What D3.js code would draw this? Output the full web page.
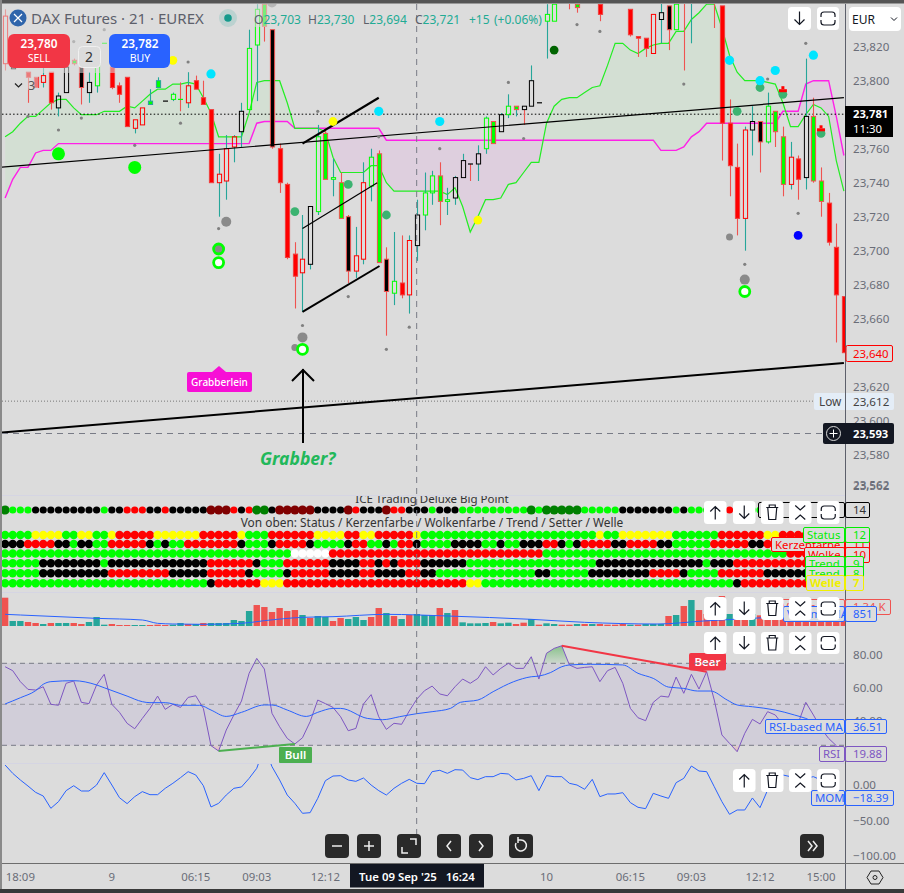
<!DOCTYPE html>
<html><head><meta charset="utf-8">
<script src="https://cdn.jsdelivr.net/npm/d3@7"></script>
<style>html,body{margin:0;padding:0;background:#dcdcdc;overflow:hidden}svg{display:block}text{font-family:"Noto Sans",sans-serif}</style>
</head><body><div id="chart"></div>
<script>
// ---------- price panel data (one entry per bar, null = bar not visible) ----------
const bodyTop=[23838,23808,null,23805,23802,23803,23805,23791,23808,23812,
23808,23799,23813,23822,23808,23797,23802,23777,23784,23788,
23800,23788,23792,23789,23797,23800,23790,23783,23745,23760,
23767,23782,23819,23842,23845,23830,23760,23739,23698,23695,
23726,23767,23769,23743,23740,23720,23697,23740,23755,23757,
23695,23682,23681,23706,23721,23734,23744,23744,23730,23743,
23753,23751,23757,23778,23776,23780,23785,23785,23785,23800,
23787,23839,23845,null,23850,23845,null,null,23845,null,
null,null,23842,23826,23825,23839,23840,23844,23845,23855,
23855,null,null,23855,23844,23775,23749,23771,23776,23776,
23785,23782,23767,23755,23754,23779,23779,23741,23728,23702,23673];
const bodyBottom=[23810,23807,null,23802,23796,23799,23787,23784,23793,23810,
23796,23793,23797,23822,23796,23792,23773,23772,23774,23786,
23796,23788,23789,23789,23787,23795,23786,23740,23740,23741,
23761,23770,23783,23821,23832,23761,23740,23696,23685,23687,
23692,23723,23742,23742,23719,23688,23688,23695,23738,23693,
23676,23675,23674,23674,23703,23721,23734,23729,23729,23731,
23743,23751,23751,23760,23763,23770,23780,23783,23783,23785,
23787,23835,23835,null,23848,23843,null,null,23839,null,
null,null,23827,23825,23819,23816,23836,23830,23830,23852,
23852,null,null,23852,23775,23750,23719,23719,23771,23764,
23764,23770,23739,23739,23742,23743,23741,23729,23705,23674,23640];
const wickHigh=[23842,23808,null,23805,23802,23808,23805,23793,23808,23813,
23808,23805,23813,23822,23808,23799,23802,23777,23784,23795,
23802,23788,23793,23799,23805,23803,23800,23783,23757,23768,
23768,23787,23830,23845,23845,23830,23763,23740,23705,23721,
23726,23774,23772,23754,23746,23721,23714,23752,23760,23759,
23702,23711,23709,23709,23730,23746,23747,23752,23737,23744,
23757,23751,23762,23779,23776,23781,23792,23785,23785,23809,
23787,23845,23845,null,23850,23845,null,null,23845,null,
null,null,23842,23826,23825,23839,23855,23844,23845,23855,
23855,null,null,23855,23844,23789,23763,23773,23785,23776,
23793,23782,23773,23764,23756,23813,23790,23749,23734,23716,23673];
const wickLow=[23806,23807,null,23787,23796,23796,23783,23779,23793,23809,
23786,23787,23793,23822,23795,23787,23773,23769,23774,23786,
23796,23788,23788,23782,23784,23795,23786,23740,23720,23730,
23752,23761,23783,23788,23823,23760,23734,23695,23666,23664,
23689,23721,23742,23732,23719,23681,23684,23692,23729,23693,
23650,23668,23672,23663,23694,23712,23727,23715,23721,23727,
23743,23741,23741,23757,23763,23770,23778,23779,23774,23785,
23787,23813,23835,null,23842,23840,null,null,23835,null,
null,null,23826,23814,23814,23816,23822,23818,23830,23806,
23822,null,null,23831,23753,23732,23709,23700,23756,23746,
23763,23761,23732,23736,23730,23736,23740,23720,23703,23646,23640];
const bodyStyle=("RK rrRrKKg"+"kKGGrrrRRT"+"TKGGRrrrRR"+"RKGGgkrrrR"+"KGgGgkRRGg"+"kGrRKGGgGK"+"KKKGgKGgKK"+"KGG rg  r "+"  rrrRKkGr"+"G  rrrrRKk"+"GggRrKggrrr").split("");
const wickTint=("rt rrtrttr"+"rtttrrrtrt"+"tttrtrrrtt"+"ttttrrrrrt"+"ttrtrrtttr"+"rtrttttrtt"+"trttrtttrt"+"ttt rr  r "+"  rrrrtrtr"+"t  rrrrttr"+"trrtrtrrrrr").split("");
const cloudA=[23767,23770,23775,23779,23779,23783,23787,23789,23789,23784,
23780,23780,23780,23782,23782,23782,23785,23784,23788,23792,
23795,23795,23798,23798,23799,23798,23790,23781,23767,23767,
23767,23767,23781,23799,23800,23800,23800,23787,23772,23772,
23772,23772,23770,23755,23746,23746,23746,23746,23750,23750,
23740,23735,23735,23735,23735,23735,23735,23735,23733,23737,
23726,23711,23720,23730,23730,23731,23739,23740,23746,23752,
23752,23775,23785,23789,23790,23790,23793,23796,23797,23809,
23822,23822,23818,23816,23819,23821,23822,23822,23829,23829,
23836,23840,23845,23845,23831,23815,23805,23800,23800,23800,
23799,23798,23787,23773,23773,23780,23786,23784,23779,23753,23735];
const cloudB=[23731,23742,23749,23749,23757.5,23759,23759,23763,23763,23763,
23763,23763,23763,23763,23763,23763,23763,23763,23763,23763,
23763,23763,23763,23763,23763,23763,23763,23763,23763,23763,
23763,23763,23763,23775,23776,23776,23776,23776,23772,23772,
23772,23772,23772,23772,23772,23772,23772,23772,23772,23772,
23765,23765,23765,23765,23765,23765,23765,23765,23765,23765,
23765,23765,23765,23765,23765,23765,23765,23765,23765,23765,
23765,23765,23765,23765,23765,23765,23765,23765,23765,23765,
23765,23765,23765,23765,23765,23765,23759,23759,23759,23761,
23767,23770,23775,23775,23775,23775,23775,23775,23775,23775,
23775,23775,23782,23782,23782,23798,23800,23800,23800,23779,23756];
// dots: bar, price
const smallDotBars=[3,7,10,17,23,28,24,13,9,41,49,57,66,68,75,78,89,100,105,104,39,45,50,53,97];
const smallDotPrices=[23779,23771,23778,23762,23775,23713,23811,23830,23823,23782,23767,23760,23799,23766,23833,23829,23798,23801,23822,23722,23656,23673,23642,23655,23692];
const limeDotBars=[7,17], limeDotPrices=[23757,23749];
const seaDotBars=[38,45,50,99,96,102,107], seaDotPrices=[23723,23739,23721,23796,23782,23792,23769];
const darkDotBars=[72], darkDotPrices=[23818];
const cyanDotBars=[27,49,57,95,99,101,106], cyanDotPrices=[23804,23782,23776,23812,23800,23806,23815];
const yellowDotBars=[22,43,62], yellowDotPrices=[23812,23776,23718];
const blueDotBars=[104], blueDotPrices=[23709];
const greyDotBars=[29,39,97,95,38,35], greyDotPrices=[23717,23649,23683,23708,23643,23846], greyDotSizes=[5,5,5,3.5,3.5,5];
const ringBars=[28,28,39,97], ringPrices=[23701,23693,23642,23676], ringFills=["#8a8a8a","#fff","#fff","#fff"];
const redMarkBars=[102,107], redMarkPrices=[23795,23772];
// drawn lines: bar from, price from, bar to, price to, stroke width
const drawingBarsA=[-0.7,-0.7,39,39,39], drawingPricesA=[23749,23593,23763,23713,23664];
const drawingBarsB=[110,110,49,48.8,49.1], drawingPricesB=[23790,23634,23790,23740,23691];
const drawingWidths=[1.2,2,2.2,1.2,2];
// price axis
const priceTicks=[23820,23800,23760,23740,23720,23700,23680,23660,23620,23600,23580,23562];
// big point row + matrix rows: [colour, last bar of the run]
const bigPoint=[["D",0],["g",3],["k",12],["g",13],["k",15],["r",18],["k",20],["r",21],["k",26],["M",29],["r",30],["k",31],["r",32],["D",34],["k",35],["M",40],["k",44],["M",45],["r",46],["k",49],["M",50],["r",52],["k",55],["g",56],["k",59],["g",68],["D",69],["g",70],["D",75],["g",80],["k",87],["g",88],["k",89],["g",94],["r",95],["g",110]];
const statusRow=[["g",3],["y",7],["g",9],["y",11],["g",13],["y",14],["r",19],["y",25],["r",30],["y",31],["g",34],["r",40],["y",44],["r",46],["y",48],["r",53],["y",54],["g",77],["y",78],["g",80],["y",87],["g",93],["r",99],["y",101],["r",110]];
const candleRow=[["k",2],["r",6],["k",8],["g",9],["k",11],["g",13],["r",18],["k",19],["g",20],["k",21],["g",23],["r",30],["k",31],["g",34],["k",35],["r",39],["k",40],["g",44],["k",45],["r",47],["g",49],["k",50],["g",51],["r",53],["k",54],["g",58],["k",62],["g",64],["k",65],["g",67],["k",70],["r",72],["k",73],["g",74],["k",75],["r",79],["k",81],["r",85],["k",87],["g",92],["r",97],["k",99],["r",110]];
const cloudRow=[["g",37],["w",42],["r",70],["g",102],["r",110]];
const trendRow=[["g",4],["k",12],["g",13],["k",26],["r",32],["k",33],["g",36],["r",42],["k",46],["r",48],["k",49],["r",50],["k",51],["r",54],["k",60],["g",77],["k",91],["g",92],["k",95],["r",110]];
const setterRow=[["g",4],["k",13],["r",21],["k",26],["r",31],["k",32],["g",36],["k",37],["r",42],["k",46],["r",48],["k",52],["r",54],["k",56],["g",69],["k",71],["g",76],["k",84],["r",88],["k",89],["g",93],["r",99],["k",110]];
const waveRow=[["g",26],["k",27],["r",33],["y",36],["r",60],["y",62],["g",95],["k",96],["r",110]];
// volume
const volume=[1966,347,347,278,208,139,208,208,208,208,139,278,625,93,139,69,69,69,69,69,93,69,93,208,139,139,208,208,208,208,416,347,1041,1457,1318,971,1249,1041,1110,763,555,694,625,347,555,486,625,416,625,1249,902,694,486,763,833,763,763,1249,902,
1110,254,185,185,208,278,185,231,139,231,486,93,185,139,93,93,139,139,139,139,93,93,139,93,93,139,139,139,694,763,1388,1804,1110,833,1110,2082,833,925,879,833,740,648,694,833,648,694,763,879,694,833,925,1340];
const volumeTint=("rttrrtrttrrtt"+"trrrttrrrttrt"+"rttttttr"+"rrrrrtrttrrttt"+"rrtrtrtttrt"+"rttttrttrrtrt"+"trrtrtrrrrtrtttr"+"trtrrrrtrrtrrrrr").split("");
const volMaBars=[0,2,12,18,20,22,26,31,34,39,43,50,58,69,76,85.5,91.6,110];
const volMa=[810,763,532,416,185,139,116,185,370,601,648,810,694,463,254,139,347,851];
// RSI
const rsi=[72.9,70.5,63.8,59.1,58.7,60.7,50,49.4,62.8,64.2,51.2,50.4,61.8,68.3,50,45.1,38.4,35.1,41.4,47.5,55,46.9,50,48.1,54.2,55.2,47.5,24.8,21.5,34.3,43.5,52,68.9,78,71.5,44.5,36.3,29.2,25.8,29.6,39.4,52.6,50.4,48.1,42.4,33.9,35.3,50.2,55.9,42.4,34.7,38.4,37.8,45.9,53.2,58.3,61.1,56.3,55.2,
60.7,65.4,62.8,65.8,72.9,67.9,71.9,75,71.9,71.9,79,65.4,81.1,84.1,85.7,74,71.9,72.5,72.9,63.8,70.5,72.5,62.8,47.5,41.8,40,51.2,55,54.4,66.6,56.7,68.3,59.3,69.9,52.6,31.3,26.2,21.1,32.3,40.8,38,45.5,43.5,37.4,32.3,38.4,51.2,43.5,35.3,29.2,24.8,19.88];
const rsiMaBars=[0,2,4,5,6,9,12,13,16,18,19,21,23,25.5,27,29,31,34,35,37,39.5,41,43,44,47.5,49.5,51.7,54,56,58.4,59.7,62,64,66.7,69,70,71.5,73,74,76.8,81,83,85,87,89,90.8,92.5,94.7,96,98,101,103.5,105,107,110];
const rsiMa=[50.2,54,58.3,62.2,63.8,64.4,61.8,60.1,55,51.6,51,51,49.4,49.4,46.5,42.6,45.1,49.6,49.6,46.5,42.6,45.1,47.5,47.5,41.4,40.6,42.4,44.3,45.5,47.5,51.2,52.6,57.7,63.8,66.8,67.2,69.3,72.9,74,74.4,74,68.9,65.8,60.5,59.7,58.1,58.1,52.6,49.6,48.5,46.5,43.5,41.4,37.4,36.51];
const rsiTicks=[80,60,40], rsiLevels=[75,50,25];
// Momentum
const mom=[28.3,16.5,7.1,-1.4,-10.4,-15.6,-33,-23.6,-8,-1,-8.5,-8.5,0,17.5,0,-18,-26.4,-16.5,-9.4,-13.7,-13.7,-4.7,2.4,10.4,18.9,14.2,-1,-31.1,-26,-14.2,-4.7,-2.8,9.4,23.6,54.3,26,7.1,-14.2,-26,-40.1,-39.2,-18.9,6.1,12.7,13.2,7.1,5.2,9.9,0,-8,-14.2,-4.7,2.4,8,2.4,1.9,18.9,20.8,16.5,21.7,21.2,10.4,7.6,11.8,11.8,16.5,15.6,7.1,9.4,13.2,-8,13.2,11.8,11.8,2.4,0,-6.1,8,-16.5,-12.7,-12.7,-10.9,-25,-31.6,-33.5,-11.8,-15.6,-18.9,3.3,9.4,26.9,19.8,18.9,-2.4,-23.6,-41.5,-35.4,-35.4,-18.4,-32.1,-7.1,9.4,14.2,11.8,14.2,9.4,11.8,7.1,0,-9.4,-18.39];
const momTicks=[0,-50,-100];
// time axis
const timeTickBars=[2,14,25,33,42,71,82,90,99,107];
const timeTickLabels=["18:09","9","06:15","09:03","12:12","10","06:15","09:03","12:12","15:00"];

const W=904,H=893,AX=845;
const col={bg:"#dcdcdc",text:"#6a6d78",teal:"#26a69a",red:"#ef5350",lime:"#00ff00",mag:"#ff20e8",blue:"#2962ff",purple:"#7e57c2",dark:"#131722"};
const x=d3.scaleLinear().domain([0,110]).range([5.1,843.9]);
const y=d3.scaleLinear().domain([23820,23580]).range([46.7,454.7]);
const yVol=d3.scaleLinear().domain([0,1000]).range([626,611.6]);
const yRsi=d3.scaleLinear().domain([75,25]).range([663.3,745.3]);
const yMom=d3.scaleLinear().domain([0,-100]).range([785,855.6]);
const fmt=d3.format(",");
const svg=d3.select("#chart").append("svg").attr("width",W).attr("height",H).attr("viewBox",`0 0 ${W} ${H}`);
const defs=svg.append("defs");
function clip(id,a,b,c,d){defs.append("clipPath").attr("id",id).append("rect").attr("x",a).attr("y",b).attr("width",c).attr("height",d);}
clip("cMain",2,4,AX-2,491);clip("cMatrix",2,495,AX-2,97);clip("cVol",2,592,AX-2,34);clip("cRsi",2,626,AX-2,137);clip("cMom",2,763,AX-2,100);
clip("cOver",2,626,AX-2,yRsi(75)-626);clip("cUnder",2,yRsi(25),AX-2,763-yRsi(25));
svg.append("rect").attr("width",W).attr("height",H).attr("fill",col.bg);
const bars=d3.range(111);

// ---------- main panel ----------
const main=svg.append("g").attr("clip-path","url(#cMain)");
// cloud
const aboveB=d3.area().x(i=>x(i)).y0(0).y1(i=>y(cloudB[i]));
const belowB=d3.area().x(i=>x(i)).y0(495).y1(i=>y(cloudB[i]));
defs.append("clipPath").attr("id","cAbove").append("path").attr("d",aboveB(bars));
defs.append("clipPath").attr("id","cBelow").append("path").attr("d",belowB(bars));
const between=d3.area().x(i=>x(i)).y0(i=>y(cloudB[i])).y1(i=>y(cloudA[i]));
main.append("path").attr("d",between(bars)).attr("clip-path","url(#cAbove)").attr("fill","#d3dfd3");
main.append("path").attr("d",between(bars)).attr("clip-path","url(#cBelow)").attr("fill","#decfde");
main.append("path").attr("d",d3.line().x(i=>x(i)).y(i=>y(cloudB[i]))(bars)).attr("fill","none").attr("stroke",col.mag).attr("stroke-width",1.4);
main.append("path").attr("d",d3.line().x(i=>x(i)).y(i=>y(cloudA[i]))(bars)).attr("fill","none").attr("stroke","#22ee22").attr("stroke-width",1.2);
// level lines
main.append("line").attr("x1",2).attr("x2",AX).attr("y1",y(23780.3)).attr("y2",y(23780.3)).attr("stroke","#000").attr("stroke-width",1).attr("stroke-dasharray","1.5 2.2");
main.append("line").attr("x1",2).attr("x2",AX).attr("y1",y(23611.5)).attr("y2",y(23611.5)).attr("stroke","#777").attr("stroke-width",1).attr("stroke-dasharray","1 2");
// candles
const cw=4.2;
const candleG=main.append("g");
const styles={r:["#ff0000","#f04040"],R:["none","#ff0000"],k:["#000","#ef5350"],K:["none","#000"],g:["#00ff00","#ef5350"],G:["none","#00ff00"],T:["#00ff00",col.teal]};
bars.forEach(i=>{
  if(bodyTop[i]===null)return;
  const cx=Math.round(x(i))+.5, wc=wickTint[i]==="t"?col.teal:col.red;
  const t=y(bodyTop[i]),b=y(bodyBottom[i]);
  if(wickHigh[i]>bodyTop[i])candleG.append("line").attr("x1",cx).attr("x2",cx).attr("y1",y(wickHigh[i])).attr("y2",t).attr("stroke",wc).attr("stroke-width",1.1);
  if(wickLow[i]<bodyBottom[i])candleG.append("line").attr("x1",cx).attr("x2",cx).attr("y1",b).attr("y2",y(wickLow[i])).attr("stroke",wc).attr("stroke-width",1.1);
  const s=styles[bodyStyle[i]];
  if(b-t<0.5){candleG.append("line").attr("x1",cx-2.5).attr("x2",cx+2.5).attr("y1",t).attr("y2",t).attr("stroke",bodyStyle[i]==="K"?"#000":s[1]).attr("stroke-width",1.2);return;}
  candleG.append("rect").attr("x",cx-cw/2).attr("y",t).attr("width",cw).attr("height",b-t).attr("fill",s[0]).attr("stroke",s[1]).attr("stroke-width",1);
});
// drawings
drawingBarsA.forEach((a,k)=>main.append("line").attr("x1",x(a)).attr("y1",y(drawingPricesA[k])).attr("x2",x(drawingBarsB[k])).attr("y2",y(drawingPricesB[k])).attr("stroke","#000").attr("stroke-width",drawingWidths[k]));
// dots
function dots(b,p,r,fill){b.forEach((i,k)=>main.append("circle").attr("cx",x(i)).attr("cy",y(p[k])).attr("r",Array.isArray(r)?r[k]:r).attr("fill",fill));}
dots(smallDotBars,smallDotPrices,1.6,"#808080");
dots(limeDotBars,limeDotPrices,6.5,"#00ff00");
dots(seaDotBars,seaDotPrices,4.4,"#3cb371");
dots(darkDotBars,darkDotPrices,4.4,"#006400");
dots(cyanDotBars,cyanDotPrices,4.6,"#00e5ff");
dots(yellowDotBars,yellowDotPrices,4.4,"#ffff00");
dots(blueDotBars,blueDotPrices,4.4,"#0000ff");
dots(greyDotBars,greyDotPrices,greyDotSizes,"#8a8a8a");
ringBars.forEach((i,k)=>main.append("circle").attr("cx",x(i)).attr("cy",y(ringPrices[k])).attr("r",5).attr("fill",ringFills[k]).attr("stroke","#00ff00").attr("stroke-width",2.8));
redMarkBars.forEach((i,k)=>{const cx=x(i),cy=y(redMarkPrices[k]);
  main.append("rect").attr("x",cx-4).attr("y",cy).attr("width",8).attr("height",3).attr("fill","#f00");
  main.append("rect").attr("x",cx-1.5).attr("y",cy-3).attr("width",3).attr("height",3).attr("fill","#f00");});
// crosshair + arrow
const cross=svg.append("g");
// arrow
svg.append("path").attr("d","M303 443V369M292 381L303 370L314 381").attr("fill","none").attr("stroke","#000").attr("stroke-width",2);
svg.append("text").attr("x",260).attr("y",465).attr("font-size",17.5).attr("font-weight",700).attr("font-style","italic").attr("fill","#22b85a").text("Grabber?");
// grabberlein label
svg.append("path").attr("d","M212 372L219 366L226 372Z").attr("fill","#f70fd6");
svg.append("rect").attr("x",187).attr("y",372).attr("width",65).attr("height",20).attr("rx",2).attr("fill","#f70fd6");
svg.append("text").attr("x",219.5).attr("y",385.5).attr("text-anchor","middle").attr("font-size",10).attr("font-weight",500).attr("fill","#fff").text("Grabberlein");

// ---------- matrix panel ----------
const tone={g:"#00ff00",y:"#ffff00",r:"#ff0000",k:"#000",w:"#fff",D:"#008000",M:"#800000"};
const matrix=svg.append("g").attr("clip-path","url(#cMatrix)");
matrix.append("text").attr("x",432).attr("y",503).attr("text-anchor","middle").attr("font-size",11.5).attr("fill","#333").text("ICE Trading Deluxe Big Point");
matrix.append("text").attr("x",432).attr("y",527).attr("text-anchor","middle").attr("font-size",11.9).attr("fill","#333").text("Von oben: Status / Kerzenfarbe / Wolkenfarbe / Trend / Setter / Welle");
function dotRow(runs,cy,r){let s=0;runs.forEach(([c,e])=>{for(let i=s;i<=e;i++){matrix.append("circle").attr("cx",x(i)).attr("cy",cy).attr("r",(c==="D"||c==="M")?r+1:r).attr("fill",tone[c]);}s=e+1;});}
dotRow(bigPoint,510,3.6);
[statusRow,candleRow,cloudRow,trendRow,setterRow,waveRow].forEach((rw,k)=>dotRow(rw,[535,544,553.5,563.3,573.3,583.3][k],4.2));

// ---------- volume ----------
const vol=svg.append("g").attr("clip-path","url(#cVol)");
volume.forEach((v,i)=>vol.append("rect").attr("x",x(i)-3.2).attr("width",6.4).attr("y",yVol(v)).attr("height",yVol(0)-yVol(v)).attr("fill",volumeTint[i]==="t"?col.teal:col.red));
vol.append("path").attr("d",d3.line().x((b,k)=>x(b)).y((b,k)=>yVol(volMa[k])).curve(d3.curveMonotoneX)(volMaBars)).attr("fill","none").attr("stroke",col.blue).attr("stroke-width",1);

// ---------- RSI ----------
const rs=svg.append("g").attr("clip-path","url(#cRsi)");
rs.append("rect").attr("x",2).attr("width",AX-2).attr("y",yRsi(75)).attr("height",yRsi(25)-yRsi(75)).attr("fill","#d1ced9");
function grad(id,a,b,c,o1,o2){const g=defs.append("linearGradient").attr("id",id).attr("gradientUnits","userSpaceOnUse").attr("x1",0).attr("x2",0).attr("y1",yRsi(a)).attr("y2",yRsi(b));g.append("stop").attr("offset",0).attr("stop-color",c).attr("stop-opacity",o1);g.append("stop").attr("offset",1).attr("stop-color",c).attr("stop-opacity",o2);}
grad("gOver",86,75,"#4caf50",.6,.1);grad("gUnder",25,16,"#f23645",.08,.45);
const rsiArea=d3.area().x(i=>x(i)).y1(i=>yRsi(rsi[i]));
rs.append("path").attr("clip-path","url(#cOver)").attr("d",rsiArea.y0(yRsi(75))(bars)).attr("fill","url(#gOver)");
rs.append("path").attr("clip-path","url(#cUnder)").attr("d",rsiArea.y0(yRsi(25))(bars)).attr("fill","url(#gUnder)");
rsiLevels.forEach((l,k)=>rs.append("line").attr("x1",2).attr("x2",AX).attr("y1",yRsi(l)).attr("y2",yRsi(l)).attr("stroke",k===1?"#9a9aa2":"#787b86").attr("stroke-width",1).attr("stroke-dasharray","5 4"));
rs.append("path").attr("d",d3.line().x(i=>x(i)).y(i=>yRsi(rsi[i]))(bars)).attr("fill","none").attr("stroke",col.purple).attr("stroke-width",1);
rs.append("path").attr("d",d3.line().x(b=>x(b)).y((b,k)=>yRsi(rsiMa[k])).curve(d3.curveMonotoneX)(rsiMaBars)).attr("fill","none").attr("stroke",col.blue).attr("stroke-width",1);
rs.append("line").attr("x1",x(28)).attr("y1",yRsi(rsi[28])).attr("x2",x(38)).attr("y2",yRsi(rsi[38])).attr("stroke","#4caf50").attr("stroke-width",2);
rs.append("line").attr("x1",x(73)).attr("y1",yRsi(rsi[73])).attr("x2",x(92)).attr("y2",yRsi(rsi[92])).attr("stroke","#f23645").attr("stroke-width",2);
rs.append("rect").attr("x",279).attr("y",747).attr("width",33).attr("height",16).attr("rx",1).attr("fill","#4caf50");
rs.append("text").attr("x",295.5).attr("y",759).attr("text-anchor","middle").attr("font-size",11.5).attr("font-weight",600).attr("fill","#fff").text("Bull");
rs.append("rect").attr("x",689).attr("y",653).attr("width",37).attr("height",17.5).attr("rx",2).attr("fill","#f23645");
rs.append("text").attr("x",707.5).attr("y",666).attr("text-anchor","middle").attr("font-size",11.5).attr("font-weight",600).attr("fill","#fff").text("Bear");
rs.append("line").attr("x1",694).attr("x2",720).attr("y1",yRsi(75)).attr("y2",yRsi(75)).attr("stroke","#787b86").attr("stroke-dasharray","5 4");

// ---------- momentum ----------
svg.append("g").attr("clip-path","url(#cMom)").append("path").attr("d",d3.line().x(i=>x(i)).y(i=>yMom(mom[i]))(bars)).attr("fill","none").attr("stroke",col.blue).attr("stroke-width",1);

// ---------- separators, crosshair ----------
[495,592,625,763].forEach(v=>svg.append("line").attr("x1",2).attr("x2",W).attr("y1",v+.5).attr("y2",v+.5).attr("stroke",v===625?"none":"#d5d5e3").attr("stroke-width",1));
cross.append("line").attr("x1",2).attr("x2",823).attr("y1",433.5).attr("y2",433.5).attr("stroke","#787b86").attr("stroke-dasharray","6 5");
svg.append("line").attr("x1",x(54)-.2).attr("x2",x(54)-.2).attr("y1",4).attr("y2",835).attr("stroke","#787b86").attr("stroke-dasharray","6 5");

// fade behind legend
svg.append("rect").attr("x",2).attr("y",4).attr("width",168).attr("height",69).attr("fill",col.bg).attr("opacity",.55);
svg.append("rect").attr("x",2).attr("y",73).attr("width",36).attr("height",17).attr("fill",col.bg).attr("opacity",.55);
svg.append("rect").attr("x",252).attr("y",4).attr("width",28).attr("height",23).attr("fill",col.bg).attr("opacity",.55);

// ---------- price axis column ----------
svg.append("rect").attr("x",AX).attr("y",4).attr("width",W-AX).attr("height",859).attr("fill",col.bg);
svg.append("line").attr("x1",AX+.5).attr("x2",AX+.5).attr("y1",4).attr("y2",890).attr("stroke","#5d606b");
svg.append("line").attr("x1",2).attr("x2",W).attr("y1",863.5).attr("y2",863.5).attr("stroke","#6d6d6d");
const ax={f:11.6,x:853};
function axisText(v,yy,c,fw){return svg.append("text").attr("x",ax.x).attr("y",yy+4.2).attr("font-size",ax.f).attr("fill",c||col.text).attr("font-weight",fw||400).text(v);}
priceTicks.forEach(p=>axisText(fmt(p),y(p)));
axisText("23,562",485);
rsiTicks.forEach(v=>axisText(d3.format(".2f")(v),yRsi(v)));
momTicks.forEach(v=>axisText(d3.format(".2f")(v).replace("-","\u2212"),yMom(v)));
timeTickBars.forEach((b,k)=>svg.append("text").attr("x",x(b)).attr("y",881).attr("text-anchor","middle").attr("font-size",11.4).attr("fill",col.text).text(timeTickLabels[k]));

// value labels
function box(a,b,c,d,stroke,fill,txt,tc,tx,fw){svg.append("rect").attr("x",a+.5).attr("y",b+.5).attr("width",c-a-1).attr("height",d-b-1).attr("rx",1.5).attr("fill",fill||col.bg).attr("stroke",stroke);
 if(txt)svg.append("text").attr("x",tx).attr("y",(b+d)/2+4.1).attr("text-anchor","start").attr("font-size",11.4).attr("font-weight",fw||400).attr("fill",tc).text(txt);}
svg.append("rect").attr("x",AX).attr("y",106).attr("width",48).attr("height",31).attr("fill","#000");
svg.append("text").attr("x",853).attr("y",118).attr("font-size",11.2).attr("font-weight",700).attr("fill","#fff").text("23,781");
svg.append("text").attr("x",853).attr("y",133).attr("font-size",11.4).attr("fill","#fff").text("11:30");
box(845.5,345,893,362,"#f00",col.bg,"23,640","#f00",853);
svg.append("rect").attr("x",814).attr("y",393).attr("width",80).attr("height",17).attr("rx",2).attr("fill","#e4edf7");
svg.append("text").attr("x",819).attr("y",406).attr("font-size",11.8).attr("fill","#444").text("Low");
svg.append("line").attr("x1",AX+.5).attr("x2",AX+.5).attr("y1",393).attr("y2",410).attr("stroke","#5d606b");
svg.append("text").attr("x",853).attr("y",406).attr("font-size",11.6).attr("fill","#444").text("23,612");
svg.append("rect").attr("x",823).attr("y",423).attr("width",71).attr("height",21).attr("rx",2).attr("fill",col.dark);
svg.append("circle").attr("cx",833.5).attr("cy",433.5).attr("r",7).attr("fill","none").attr("stroke","#d8d8d8");
svg.append("path").attr("d","M829.5 433.5h8M833.5 429.5v8").attr("stroke","#fff");
svg.append("text").attr("x",853).attr("y",438).attr("font-size",11.2).attr("font-weight",700).attr("fill","#fff").text("23,593");

// indicator labels
function pair(a,b,d,end,stroke,name,val,tc,w){
 box(a,b,845,d,stroke,col.bg,name,tc,a+4,w);box(845,b,end,d,stroke,col.bg,val,tc,853,w);}
box(758,502,845,518,"#000");box(845,502,870,518,"#000",col.bg,"14","#333",853);
pair(771,537,552,870,"#f00","Kerzenfarbe","11","#f00");
pair(803,527,543,870,"#00ee00","Status","12","#00ee00");
pair(804,547,563,870,"#f00","Wolke","10","#f00");
pair(805,556,572,864,"#00ee00","Trend","9","#00ee00");
pair(805,566,582,864,"#00ee00","Trend","8","#00ee00");
pair(806,575,591,864,"#f0f000","Welle","7","#f0f000",700);
pair(778,599,615,891,"#ef5350","Volume","1.34 K","#ef5350");
pair(783,606,622,877,col.blue,"Volume MA","851",col.blue);
pair(765,719,734,887,col.blue,"RSI-based MA","36.51",col.blue);
pair(819,746,762,887,col.purple,"RSI","19.88",col.purple);
pair(811,790,806,894,col.blue,"MOM","\u221218.39",col.blue);

// buttons
const up=(c,m)=>`M${c} ${m+7}V${m-6}M${c-5} ${m-1}L${c} ${m-6}L${c+5} ${m-1}`;
const down=(c,m)=>`M${c} ${m-7}V${m+6}M${c-5} ${m+1}L${c} ${m+6}L${c+5} ${m+1}`;
const trash=(c,m)=>`M${c-6} ${m-5}H${c+6}M${c-3} ${m-5}V${m-7.5}H${c+3}V${m-5}M${c-4.5} ${m-5}L${c-3.5} ${m+7}H${c+3.5}L${c+4.5} ${m-5}`;
const coll=(c,m)=>`M${c-5} ${m-7}L${c} ${m-2.5}L${c+5} ${m-7}M${c-5} ${m+7}L${c} ${m+2.5}L${c+5} ${m+7}`;
const maxi=(c,m)=>`M${c-7} ${m-1.5}v-2a3 3 0 0 1 3 -3h8a3 3 0 0 1 3 3v2M${c-7} ${m+1.5}v2a3 3 0 0 0 3 3h8a3 3 0 0 0 3 -3v-2`;
function btn(a,b,w,h,path){svg.append("rect").attr("x",a).attr("y",b).attr("width",w).attr("height",h).attr("rx",3.5).attr("fill","#fff");
 svg.append("path").attr("d",path(a+w/2,b+h/2)).attr("fill","none").attr("stroke","#131722").attr("stroke-width",1.2);}
btn(788,7,23,23,down);btn(817,7,22,23,maxi);
[[501,23],[597,23],[632,22]].forEach(([t,h])=>{
 [[704,up],[733,down],[761,trash],[789,coll],[817,maxi]].forEach(([a,p])=>btn(a,t,22.5,h,p));});
[[733,up],[761,trash],[789,coll],[817,maxi]].forEach(([a,p])=>btn(a,769,22.5,23,p));
// EUR
svg.append("rect").attr("x",849).attr("y",7).attr("width",52).attr("height",24).attr("rx",4).attr("fill","#fff");
svg.append("text").attr("x",852).attr("y",23.5).attr("font-size",12).attr("fill","#131722").text("EUR");
svg.append("path").attr("d","M891 17.5l3 3l3 -3").attr("fill","none").attr("stroke","#131722");

// control bar
function ctrl(a,w,path){svg.append("rect").attr("x",a).attr("y",834).attr("width",w).attr("height",24).attr("rx",4).attr("fill","#2a2a2a");
 svg.append("path").attr("d",path(a+w/2,846)).attr("fill","none").attr("stroke","#eee").attr("stroke-width",1.5);}
ctrl(325,24,(c,m)=>`M${c-5} ${m}h10`);ctrl(357,24,(c,m)=>`M${c-5} ${m}h10M${c} ${m-5}v10`);
ctrl(397,24,(c,m)=>`M${c+1} ${m-7}h6v6M${c-7} ${m+1}v6h6`);
ctrl(437,24,(c,m)=>`M${c+2} ${m-5}l-4 5l4 5`);ctrl(469,24,(c,m)=>`M${c-2} ${m-5}l4 5l-4 5`);
ctrl(509,24,(c,m)=>`M${c-3} ${m-6}h3a5.5 5.5 0 1 1 -5 3M${c-3} ${m-9}v6h0`);
ctrl(800,24,(c,m)=>`M${c-4} ${m-5}l4 5l-4 5M${c+1} ${m-5}l4 5l-4 5`);
// time crosshair label
svg.append("rect").attr("x",350).attr("y",864).attr("width",134).attr("height",23.5).attr("fill",col.dark);
svg.append("text").attr("x",417).attr("y",881).attr("text-anchor","middle").attr("font-size",11.4).attr("font-weight",600).attr("fill","#fff").attr("xml:space","preserve").text("Tue 09 Sep '25   16:24");
// gear
svg.append("path").attr("d","M871 871h8l4 6.5l-4 6.5h-8l-4 -6.5z").attr("fill","none").attr("stroke","#222");
svg.append("circle").attr("cx",875).attr("cy",877.5).attr("r",2).attr("fill","none").attr("stroke","#222");

// legend
svg.append("circle").attr("cx",18).attr("cy",18).attr("r",8.5).attr("fill","#2f65ab");
svg.append("path").attr("d","M14 14l8 8M22 14l-8 8").attr("stroke","#fff").attr("stroke-width",1.2);
svg.append("text").attr("x",31).attr("y",24).attr("font-size",15).attr("fill","#5d606b").text("DAX Futures \u00b7 21 \u00b7 EUREX");
svg.append("circle").attr("cx",228).attr("cy",18).attr("r",9).attr("fill","#26a69a").attr("opacity",.18);
svg.append("circle").attr("cx",228).attr("cy",18).attr("r",3.8).attr("fill","#149a8c");
const ohlcLabels=["O","H","L","C"],ohlcVals=["23,703","23,730","23,694","23,721"],ohlcX=[254,308,363,415];
ohlcLabels.forEach((l,k)=>{const t=svg.append("text").attr("x",ohlcX[k]).attr("y",23.5).attr("font-size",12);t.append("tspan").attr("fill","#5d606b").text(l);t.append("tspan").attr("fill","#22ab94").text(ohlcVals[k]);});
svg.append("text").attr("x",469).attr("y",23.5).attr("font-size",12).attr("fill","#22ab94").text("+15");
svg.append("text").attr("x",494).attr("y",23.5).attr("font-size",12).attr("fill","#22ab94").text("(+0.06%)");

// trade buttons
svg.append("rect").attr("x",8).attr("y",34).attr("width",62).attr("height",34).attr("rx",6).attr("fill","#f23645");
svg.append("text").attr("x",39).attr("y",48).attr("text-anchor","middle").attr("font-size",11.8).attr("font-weight",600).attr("fill","#fff").text("23,780");
svg.append("text").attr("x",39).attr("y",62).attr("text-anchor","middle").attr("font-size",10.5).attr("fill","#fff").text("SELL");
svg.append("rect").attr("x",109).attr("y",34).attr("width",61).attr("height",34).attr("rx",6).attr("fill","#2962ff");
svg.append("text").attr("x",140).attr("y",48).attr("text-anchor","middle").attr("font-size",11.8).attr("font-weight",600).attr("fill","#fff").text("23,782");
svg.append("text").attr("x",140).attr("y",62).attr("text-anchor","middle").attr("font-size",10.5).attr("fill","#fff").text("BUY");
svg.append("rect").attr("x",78.5).attr("y",46.5).attr("width",22).attr("height",21).attr("rx",4).attr("fill",col.bg).attr("stroke","#f0f0f0");
svg.append("text").attr("x",89).attr("y",62).attr("text-anchor","middle").attr("font-size",14).attr("fill","#333").text("2");
svg.append("text").attr("x",89).attr("y",43).attr("text-anchor","middle").attr("font-size",10.5).attr("fill","#333").text("2");
svg.append("path").attr("d","M15 83.5l3.5 3.5l3.5 -3.5").attr("fill","none").attr("stroke","#222").attr("stroke-width",1.2);
svg.append("text").attr("x",28).attr("y",90).attr("font-size",12.5).attr("fill","#555").text("3");

// window frame
svg.append("rect").attr("width",W).attr("height",3.5).attr("fill","#555");
svg.append("rect").attr("width",2).attr("height",H).attr("fill","#8a8a8a");
svg.append("rect").attr("y",889).attr("width",W).attr("height",4).attr("fill","#3a3a3a");
</script></body></html>
